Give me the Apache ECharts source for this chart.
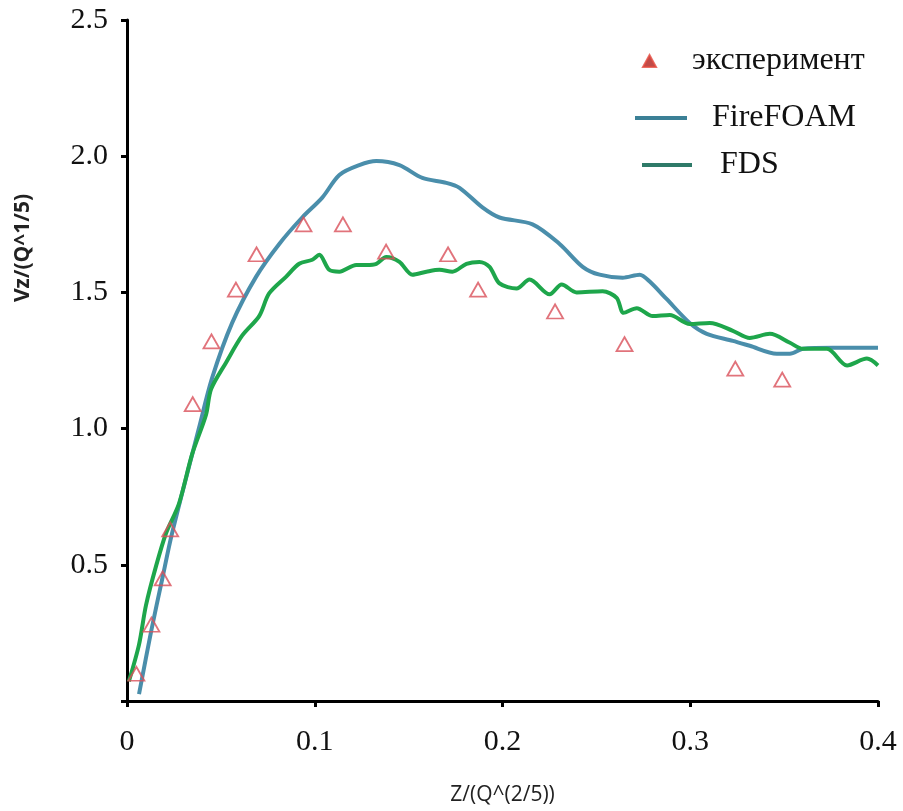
<!DOCTYPE html>
<html>
<head>
<meta charset="utf-8">
<script src="https://cdn.jsdelivr.net/npm/echarts@6/dist/echarts.min.js"></script>
<style>
html,body{margin:0;padding:0;background:#fff;}
#chart{width:903px;height:811px;}
</style>
</head>
<body>
<div id="chart"></div>
<script>
// Experimental points
var expX = [0.005, 0.013, 0.019, 0.023, 0.035, 0.045, 0.058, 0.069, 0.094, 0.115, 0.138, 0.171, 0.187, 0.228, 0.265, 0.324, 0.349];
var expY = [0.10, 0.28, 0.45, 0.63, 1.09, 1.32, 1.51, 1.64, 1.75, 1.75, 1.65, 1.64, 1.51, 1.43, 1.31, 1.22, 1.18];

// FireFOAM curve
var foamX = [0.0064, 0.0128, 0.0187, 0.024, 0.0384, 0.0453, 0.056, 0.0688, 0.0811, 0.0933, 0.104, 0.1131, 0.1237, 0.1328, 0.1451, 0.1573, 0.1701, 0.1771, 0.1893, 0.1984, 0.216, 0.2304, 0.2427, 0.2517, 0.264, 0.2731, 0.2784, 0.2875, 0.2997, 0.3088, 0.3227, 0.3317, 0.3461, 0.3531, 0.36, 0.376, 0.4];
var foamY = [0.025, 0.254, 0.446, 0.616, 1.004, 1.185, 1.388, 1.558, 1.678, 1.775, 1.848, 1.931, 1.967, 1.982, 1.967, 1.920, 1.902, 1.884, 1.812, 1.775, 1.750, 1.678, 1.594, 1.565, 1.554, 1.565, 1.540, 1.475, 1.388, 1.348, 1.322, 1.304, 1.275, 1.275, 1.293, 1.297, 1.297];

// FDS curve
var fdsX = [0.001, 0.0064, 0.0101, 0.0155, 0.0208, 0.0277, 0.0347, 0.0421, 0.0448, 0.0528, 0.0613, 0.0704, 0.0757, 0.0848, 0.0917, 0.0987, 0.1024, 0.1077, 0.1131, 0.1221, 0.1275, 0.1328, 0.1381, 0.1451, 0.152, 0.1595, 0.1664, 0.1733, 0.1808, 0.1877, 0.1931, 0.1984, 0.2075, 0.2144, 0.2251, 0.2315, 0.2395, 0.2533, 0.2608, 0.2645, 0.2715, 0.28, 0.2891, 0.2997, 0.3104, 0.3227, 0.3317, 0.3424, 0.3531, 0.36, 0.3728, 0.3835, 0.3941, 0.4];
var fdsY = [0.072, 0.207, 0.351, 0.496, 0.616, 0.725, 0.906, 1.051, 1.145, 1.243, 1.341, 1.413, 1.496, 1.558, 1.605, 1.620, 1.638, 1.583, 1.576, 1.601, 1.601, 1.605, 1.630, 1.612, 1.565, 1.576, 1.583, 1.576, 1.605, 1.612, 1.594, 1.533, 1.514, 1.547, 1.493, 1.529, 1.500, 1.504, 1.480, 1.425, 1.442, 1.413, 1.417, 1.384, 1.388, 1.359, 1.333, 1.348, 1.315, 1.293, 1.293, 1.232, 1.257, 1.232];

// Axis ticks
var xTicks = ['0', '0.1', '0.2', '0.3', '0.4'];
var yTicks = ['', '0.5', '1.0', '1.5', '2.0', '2.5'];

function zip(a, b) { return a.map(function (v, i) { return [v, b[i]]; }); }

var serif = 'Liberation Serif';
var chart = echarts.init(document.getElementById('chart'));
chart.setOption({
  animation: false,
  backgroundColor: '#fff',
  grid: { left: 127, right: 25, top: 20, bottom: 101, containLabel: false },
  xAxis: {
    type: 'value', min: 0, max: 0.4, interval: 0.1,
    name: 'Z/(Q^(2/5))', nameLocation: 'middle', nameGap: 84,
    nameTextStyle: { fontFamily: 'Open Sans', fontSize: 21, color: '#222' },
    axisLine: { lineStyle: { color: '#000', width: 3 } },
    axisTick: { show: true, length: 6, lineStyle: { color: '#000', width: 3 } },
    axisLabel: { margin: 26, fontFamily: serif, fontSize: 30, color: '#111',
      formatter: function (v) { return xTicks[Math.round(v * 10)]; } },
    splitLine: { show: false }
  },
  yAxis: {
    type: 'value', min: 0, max: 2.5, interval: 0.5,
    axisLine: { show: true, lineStyle: { color: '#000', width: 3 } },
    axisTick: { show: true, length: 6, lineStyle: { color: '#000', width: 3 } },
    axisLabel: { margin: 19, fontFamily: serif, fontSize: 30, color: '#111',
      formatter: function (v) { return yTicks[Math.round(v * 2)]; } },
    splitLine: { show: false }
  },
  graphic: [{
    type: 'text', x: 23, y: 248, rotation: Math.PI / 2,
    style: { text: 'Vz/(Q^1/5)', fontFamily: 'Open Sans', fontWeight: 'bold', fontSize: 21, fill: '#222', textAlign: 'center', textVerticalAlign: 'middle' }
  }],
  legend: [
    { left: 642, top: 45, padding: 0, itemWidth: 13, itemHeight: 12,
      data: [{ name: 'эксперимент', icon: 'triangle', itemStyle: { color: '#b01e1a', borderColor: '#e34b40', borderWidth: 2 } }],
      textStyle: { fontFamily: serif, fontSize: 32, color: '#111', padding: [0, 0, 0, 31] } },
    { left: 635, top: 102, padding: 0, itemWidth: 52, itemHeight: 4,
      data: [{ name: 'FireFOAM', icon: 'rect', itemStyle: { color: '#3b8096', borderWidth: 0 } }],
      textStyle: { fontFamily: serif, fontSize: 32, color: '#111', padding: [0, 0, 0, 20] } },
    { left: 642, top: 149, padding: 0, itemWidth: 50, itemHeight: 4,
      data: [{ name: 'FDS', icon: 'rect', itemStyle: { color: '#2e7a68', borderWidth: 0 } }],
      textStyle: { fontFamily: serif, fontSize: 32, color: '#111', padding: [0, 0, 0, 23] } }
  ],
  series: [
    { name: 'FireFOAM', type: 'line', data: zip(foamX, foamY), symbol: 'none', smooth: 0.3,
      lineStyle: { color: '#4a8eab', width: 4 }, itemStyle: { color: '#4a8eab' }, z: 2 },
    { name: 'FDS', type: 'line', data: zip(fdsX, fdsY), symbol: 'none', smooth: 0.3,
      lineStyle: { color: '#1ea64b', width: 4 }, itemStyle: { color: '#1ea64b' }, z: 3 },
    { name: 'эксперимент', type: 'scatter', data: zip(expX, expY), symbol: 'triangle', symbolSize: [16, 14],
      itemStyle: { color: 'rgba(255,255,255,0)', borderColor: '#d9505a', borderWidth: 1.8 }, z: 4 }
  ]
});
</script>
</body>
</html>
